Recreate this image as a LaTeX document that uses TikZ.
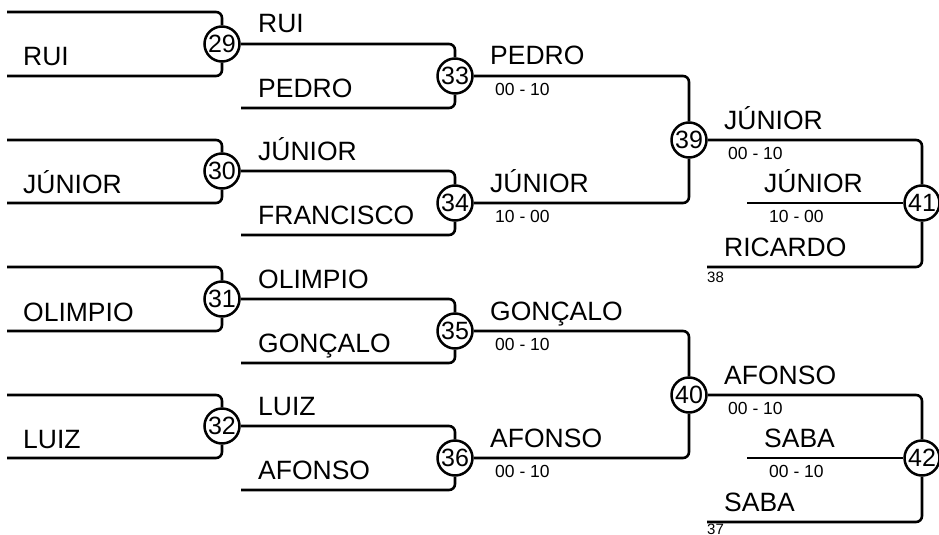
\documentclass[tikz,border=0pt]{standalone}
\usepackage{fontspec}
\setmainfont{Liberation Sans}
\usepackage{tikz}
\usetikzlibrary{positioning}

\tikzset{
  jogo/.style={circle, draw, line width=2.5pt, minimum size=35pt, inner sep=0pt, fill=white,
    font=\fontsize{25}{25}\selectfont},
  nome/.style={anchor=base west, inner sep=0pt, font=\fontsize{26.5}{30}\selectfont},
  placar/.style={anchor=base west, inner sep=0pt, font=\fontsize{17.5}{20}\selectfont},
  origem/.style={anchor=base west, inner sep=0pt, font=\fontsize{15}{18}\selectfont},
  chave/.style={line width=2.6pt, rounded corners=6pt}
}

\begin{document}
\begin{tikzpicture}[x=1pt, y=-1pt]
\useasboundingbox (0,0) rectangle (939,535);

\node[jogo] (J29) at (222,44) {29};
\node[jogo] (J30) at (222,171) {30};
\node[jogo] (J31) at (222,299) {31};
\node[jogo] (J32) at (222,426) {32};
\node[jogo] (J33) at (455,76) {33};
\node[jogo] (J34) at (455,203) {34};
\node[jogo] (J35) at (455,331) {35};
\node[jogo] (J36) at (455,458) {36};
\node[jogo] (J39) at (689,140) {39};
\node[jogo] (J40) at (689,395) {40};
\node[jogo] (J41) at (922,203) {41};
\node[jogo] (J42) at (922,458) {42};

\coordinate (A1) at (7,12);   \coordinate (A2) at (7,76);
\coordinate (A3) at (7,140);  \coordinate (A4) at (7,203);
\coordinate (A5) at (7,267);  \coordinate (A6) at (7,331);
\coordinate (A7) at (7,395);  \coordinate (A8) at (7,458);
\coordinate (B1) at (241,108); \coordinate (B2) at (241,235);
\coordinate (B3) at (241,363); \coordinate (B4) at (241,490);
\coordinate (C1) at (747,203); \coordinate (C2) at (707,267);
\coordinate (C3) at (747,458); \coordinate (C4) at (707,522);

\draw[chave] (A1) -| (J29);
\draw[chave] (A2) -| (J29);
\draw[chave] (A3) -| (J30);
\draw[chave] (A4) -| (J30);
\draw[chave] (A5) -| (J31);
\draw[chave] (A6) -| (J31);
\draw[chave] (A7) -| (J32);
\draw[chave] (A8) -| (J32);

\draw[chave] (J29) -| (J33);
\draw[chave] (B1) -| (J33);
\draw[chave] (J30) -| (J34);
\draw[chave] (B2) -| (J34);
\draw[chave] (J31) -| (J35);
\draw[chave] (B3) -| (J35);
\draw[chave] (J32) -| (J36);
\draw[chave] (B4) -| (J36);

\draw[chave] (J33) -| (J39);
\draw[chave] (J34) -| (J39);
\draw[chave] (J35) -| (J40);
\draw[chave] (J36) -| (J40);

\draw[chave] (J39) -| (J41);
\draw[chave] (C1) -- (J41);
\draw[chave] (C2) -| (J41);
\draw[chave] (J40) -| (J42);
\draw[chave] (C3) -- (J42);
\draw[chave] (C4) -| (J42);

\node[nome] (n1) at (23,66) {RUI};
\node[nome] (n2) at (23,193) {JÚNIOR};
\node[nome] (n3) at (23,321) {OLIMPIO};
\node[nome] (n4) at (23,448) {LUIZ};

\node[nome] (n5) at (258,33) {RUI};
\node[nome] (n6) at (258,97) {PEDRO};
\node[nome] (n7) at (258,160) {JÚNIOR};
\node[nome] (n8) at (258,224) {FRANCISCO};
\node[nome] (n9) at (258,288) {OLIMPIO};
\node[nome] (n10) at (258,352) {GONÇALO};
\node[nome] (n11) at (258,415) {LUIZ};
\node[nome] (n12) at (258,479) {AFONSO};

\node[nome] (n13) at (490,65) {PEDRO};
\node[placar] (p1) at (495,95) {00 - 10};
\node[nome] (n14) at (490,192) {JÚNIOR};
\node[placar] (p2) at (495,222) {10 - 00};
\node[nome] (n15) at (490,320) {GONÇALO};
\node[placar] (p3) at (495,350) {00 - 10};
\node[nome] (n16) at (490,447) {AFONSO};
\node[placar] (p4) at (495,477) {00 - 10};

\node[nome] (n17) at (724,129) {JÚNIOR};
\node[placar] (p5) at (728,159) {00 - 10};
\node[nome] (n18) at (764,192) {JÚNIOR};
\node[placar] (p6) at (769,222) {10 - 00};
\node[nome] (n19) at (724,256) {RICARDO};
\node[origem] (o1) at (707,282) {38};

\node[nome] (n20) at (724,384) {AFONSO};
\node[placar] (p7) at (728,414) {00 - 10};
\node[nome] (n21) at (764,447) {SABA};
\node[placar] (p8) at (769,477) {00 - 10};
\node[nome] (n22) at (724,511) {SABA};
\node[origem] (o2) at (707,534) {37};
\end{tikzpicture}
\end{document}
